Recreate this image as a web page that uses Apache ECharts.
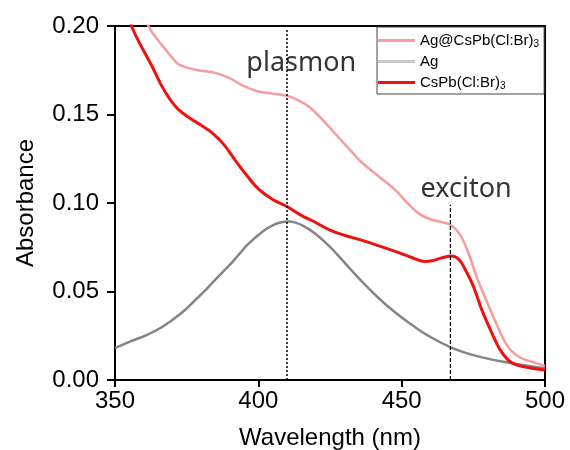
<!DOCTYPE html>
<html>
<head>
<meta charset="utf-8">
<script src="https://cdn.jsdelivr.net/npm/echarts@6/dist/echarts.min.js"></script>
<style>html,body{margin:0;padding:0;background:#fff}#c{width:570px;height:450px}</style>
</head>
<body>
<div id="c"></div>
<script>
// Ag@CsPb(Cl:Br)3
var hybridWl  = [358, 362, 365, 368, 370, 372, 375, 379, 385, 390, 395, 400, 405, 410, 414, 418, 423, 428, 432, 436, 442, 448, 452, 456, 460, 464, 467, 470, 473, 476, 479, 483, 487, 491, 495, 500];
var hybridAbs = [0.215, 0.199, 0.192, 0.186, 0.182, 0.1785, 0.1765, 0.175, 0.1735, 0.1705, 0.166, 0.163, 0.1618, 0.1605, 0.158, 0.154, 0.146, 0.137, 0.130, 0.123, 0.115, 0.107, 0.100, 0.094, 0.0908, 0.0892, 0.0876, 0.083, 0.073, 0.059, 0.047, 0.032, 0.019, 0.013, 0.0105, 0.008];
// Ag
var agWl  = [350, 355, 361, 366, 370, 374, 378, 382, 386, 390, 393, 396, 399, 402, 405, 408, 410.5, 413, 416, 420, 425, 430, 436, 442, 448, 454, 459.5, 467.5, 477, 488, 500];
var agAbs = [0.018, 0.0215, 0.0254, 0.0295, 0.0339, 0.039, 0.0452, 0.0515, 0.0584, 0.065, 0.0705, 0.076, 0.0805, 0.0845, 0.0874, 0.0891, 0.0896, 0.0889, 0.0868, 0.0825, 0.0752, 0.0665, 0.0558, 0.0462, 0.0378, 0.0306, 0.0248, 0.0182, 0.0132, 0.0096, 0.0066];
// CsPb(Cl:Br)3
var cspbWl  = [354, 356, 360, 363, 366, 369, 372, 376, 380, 384, 388, 392, 396, 400, 405, 410, 415, 420, 425, 430, 436, 442, 448, 453, 458, 461, 464, 467.5, 470, 472, 475, 478, 481.5, 484, 487, 490, 495, 500];
var cspbAbs = [0.21, 0.199, 0.186, 0.177, 0.167, 0.159, 0.153, 0.148, 0.144, 0.1395, 0.133, 0.124, 0.1155, 0.108, 0.102, 0.098, 0.093, 0.089, 0.0847, 0.0818, 0.079, 0.0758, 0.0725, 0.0695, 0.067, 0.0675, 0.069, 0.070, 0.068, 0.063, 0.053, 0.0395, 0.0265, 0.018, 0.0115, 0.0085, 0.0068, 0.0056];

var seriesNames = ['Ag@CsPb(Cl:Br)3', 'Ag', 'CsPb(Cl:Br)3'];
var xTicks = [350, 400, 450, 500];
var yTicks = [0.00, 0.05, 0.10, 0.15, 0.20];

// annotations
var plasmonX = 410, plasmonTop = 0.198;
var excitonX = 467, excitonTop = 0.099;
var annotTexts = ['plasmon', 'exciton'];
var annotPos = [[415, 0.179], [472.5, 0.1075]];

function pairs(xs, ys) { return xs.map(function (x, i) { return [x, ys[i]]; }); }

var chart = echarts.init(document.getElementById('c'), null, {renderer: 'canvas'});
var font = '"Liberation Sans", Arial, sans-serif';
chart.setOption({
  animation: false,
  backgroundColor: '#fff',
  grid: {left: 115, right: 25, top: 26, bottom: 70, show: true, borderColor: '#000', borderWidth: 2, backgroundColor: 'transparent',
    containLabel: false, outerBoundsMode: 'none'},
  xAxis: {
    type: 'value', min: xTicks[0], max: xTicks[xTicks.length - 1], interval: 50,
    name: 'Wavelength (nm)', nameLocation: 'middle', nameGap: 46,
    nameTextStyle: {fontFamily: font, fontSize: 24, color: '#000'},
    axisLine: {lineStyle: {color: '#000', width: 2}},
    axisTick: {show: true, length: 7, inside: false, lineStyle: {color: '#000', width: 2}},
    axisLabel: {fontFamily: font, fontSize: 24, color: '#000', margin: 9},
    splitLine: {show: false}
  },
  yAxis: {
    type: 'value', min: yTicks[0], max: yTicks[yTicks.length - 1], interval: 0.05,
    name: 'Absorbance', nameLocation: 'middle', nameGap: 77,
    nameTextStyle: {fontFamily: font, fontSize: 24, color: '#000'},
    axisLine: {show: true, lineStyle: {color: '#000', width: 2}},
    axisTick: {show: true, length: 8, inside: false, lineStyle: {color: '#000', width: 2}},
    axisLabel: {fontFamily: font, fontSize: 24, color: '#000', margin: 16,
      formatter: function (v) { return v.toFixed(2); }},
    splitLine: {show: false}
  },
  legend: {
    left: 377, top: 27, orient: 'vertical',
    data: seriesNames,
    icon: 'rect',
    itemWidth: 37, itemHeight: 3, itemGap: 4,
    padding: [5, 5, 3, 1],
    borderColor: '#444', borderWidth: 1,
    textStyle: {fontFamily: font, fontSize: 15, color: '#000', lineHeight: 17,
      rich: {
        m: {fontFamily: font, fontSize: 15, color: '#000', lineHeight: 17},
        s: {fontFamily: font, fontSize: 10, color: '#000', verticalAlign: 'bottom', lineHeight: 17, padding: [7, 0, 0, 0]}
      }},
    formatter: function (name) {
      if (/3$/.test(name)) return '{m|' + name.slice(0, -1) + '}{s|3}';
      return '{m|' + name + '}';
    }
  },
  series: [
    {name: seriesNames[0], type: 'line', data: pairs(hybridWl, hybridAbs), showSymbol: false, symbol: 'none', smooth: 0.4, clip: true,
      lineStyle: {color: '#f59c9c', width: 2.5}, itemStyle: {color: '#f5a0a0'}, z: 3},
    {name: seriesNames[1], type: 'line', data: pairs(agWl, agAbs), showSymbol: false, symbol: 'none', smooth: 0.4, clip: true,
      lineStyle: {color: '#858585', width: 2.5}, itemStyle: {color: '#cacaca'}, z: 3},
    {name: seriesNames[2], type: 'line', data: pairs(cspbWl, cspbAbs), showSymbol: false, symbol: 'none', smooth: 0.4, clip: true,
      lineStyle: {color: '#f01010', width: 3}, itemStyle: {color: '#f01010'}, z: 4},
    {name: 'plasmonLine', type: 'line', data: [[plasmonX, 0], [plasmonX, plasmonTop]], symbol: 'none', silent: true,
      lineStyle: {color: '#000', width: 1.5, type: [2, 2]}, z: 5},
    {name: 'excitonLine', type: 'line', data: [[excitonX, 0], [excitonX, excitonTop]], symbol: 'none', silent: true,
      lineStyle: {color: '#000', width: 1.2, type: [4, 2]}, z: 5},
    {name: 'annot', type: 'scatter', symbolSize: 0, silent: true, z: 6,
      data: annotTexts.map(function (t, i) { return {value: annotPos[i], label: {formatter: t}}; }),
      label: {show: true, position: 'inside', fontFamily: '"Noto Sans", sans-serif', fontSize: 27, color: '#000'}}
  ]
});
</script>
</body>
</html>
